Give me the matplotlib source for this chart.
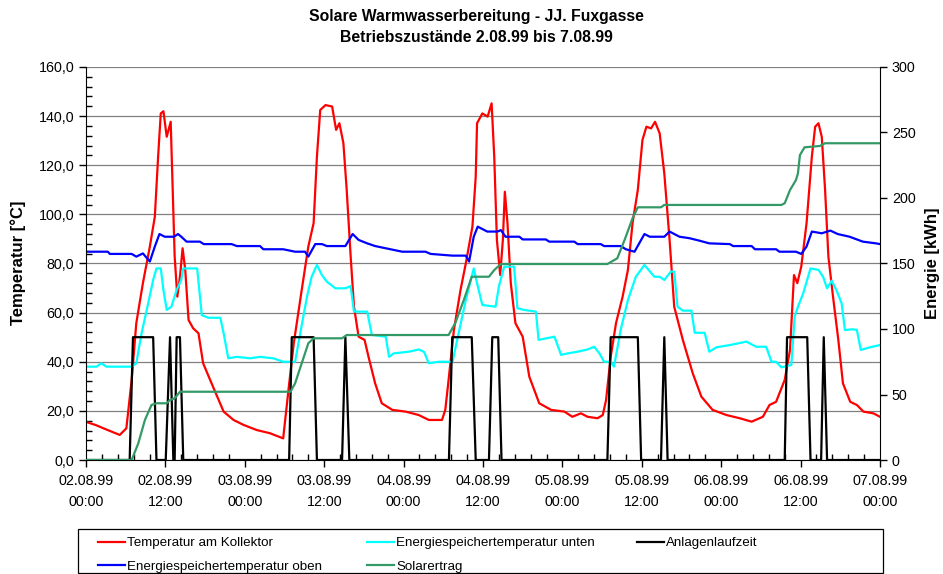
import matplotlib
matplotlib.use("Agg")
import matplotlib.pyplot as plt
import matplotlib.ticker as ticker
from matplotlib.patches import Rectangle

plt.rcParams['font.family'] = ['Liberation Sans', 'DejaVu Sans']

# hours since 02.08.99 00:00
kollektor_t = [0, 1.5, 3.0, 5.1, 6.1, 6.9, 7.6, 8.6, 9.65, 10.4, 10.9, 11.3, 11.7, 12.2, 12.8,
               13.1, 13.4, 13.8, 14.2, 14.6, 15.0, 15.5, 16.2, 17.0, 17.7, 19.2, 20.8, 22.3,
               23.8, 25.8, 27.8, 29.8, 30.6, 31.4, 32.6, 33.6, 34.4, 34.9, 35.4, 36.2, 37.2,
               37.8, 38.3, 38.9, 39.4, 40.0, 40.5, 41.2, 42.1, 42.7, 43.7, 44.7, 46.3, 48.3,
               50.3, 51.8, 53.8, 54.3, 54.8, 55.6, 56.6, 57.4, 58.4, 58.9, 59.1, 59.9, 60.7,
               61.3, 61.7, 62.1, 62.6, 63.0, 63.3, 63.7, 64.2, 64.9, 66.0, 67.0, 68.5, 70.3,
               72.3, 73.5, 74.8, 75.8, 77.3, 78.1, 78.6, 79.3, 80.1, 81.1, 81.9, 82.6, 83.4,
               84.1, 84.7, 85.4, 86.0, 86.7, 87.4, 88.2, 88.9, 90.2, 91.7, 93.0, 94.7, 96.8,
               98.8, 100.6, 102.3, 103.3, 104.3, 105.6, 106.4, 107.0, 107.5, 108.1, 108.9,
               109.7, 110.2, 110.7, 111.2, 111.7, 112.2, 112.9, 113.7, 114.4, 115.5, 116.5,
               117.5, 119.0, 120.0]
kollektor_v = [15.5, 14.2, 12.5, 10.2, 12.9, 32.6, 55.7, 72.0, 86.9, 99.0, 123.5, 141.1, 142.0,
               131.6, 137.7, 110.0, 82.8, 66.5, 74.6, 86.2, 77.4, 57.0, 53.6, 51.6, 39.4, 29.8,
               19.7, 16.3, 14.3, 12.2, 10.9, 8.8, 28.5, 47.5, 69.2, 86.9, 96.4, 123.5, 142.5,
               144.5, 143.9, 134.4, 137.1, 129.0, 110.0, 82.8, 62.4, 50.2, 48.9, 42.0, 31.2,
               23.1, 20.4, 19.7, 18.3, 16.3, 16.3, 20.4, 32.6, 52.9, 69.2, 80.0, 95.0, 115.4,
               137.1, 141.1, 139.8, 145.2, 123.5, 89.6, 75.3, 89.6, 109.2, 96.4, 72.0, 55.7,
               50.2, 33.9, 23.1, 20.4, 19.7, 17.6, 19.0, 17.6, 17.0, 18.3, 24.4, 42.0, 55.7,
               66.5, 77.4, 96.4, 110.0, 130.3, 135.7, 135.0, 137.7, 133.0, 116.7, 89.6, 62.4,
               48.9, 35.3, 25.8, 20.4, 18.3, 17.0, 15.6, 17.6, 22.4, 23.7, 32.6, 44.8, 75.3,
               72.0, 78.7, 96.4, 123.5, 135.7, 137.1, 131.6, 110.0, 82.8, 66.5, 48.9, 31.2,
               23.7, 22.4, 19.7, 19.0, 17.6]

unten_t = [0, 1.6, 2.3, 3.1, 6.9, 7.6, 8.4, 9.4, 10.15, 10.65, 11.3, 11.7, 12.2, 12.9, 13.7,
           14.4, 14.7, 16.8, 17.5, 18.5, 20.3, 20.8, 21.5, 22.8, 24.8, 26.3, 28.3, 29.8, 31.6,
           32.1, 33.4, 34.1, 34.9, 35.65, 36.4, 37.7, 39.2, 40.0, 40.5, 42.5, 43.2, 45.3, 45.8,
           46.5, 48.8, 50.3, 51.1, 51.8, 53.3, 55.4, 56.1, 57.4, 58.6, 59.1, 59.9, 61.9, 62.4,
           63.2, 64.7, 65.2, 66.2, 68.0, 68.4, 70.8, 71.8, 72.8, 74.3, 75.8, 76.8, 77.6, 78.3,
           79.3, 79.8, 80.8, 81.9, 83.1, 84.4, 85.9, 86.7, 87.4, 88.4, 88.9, 89.4, 90.2, 91.5,
           92.0, 93.5, 94.2, 95.3, 97.3, 99.8, 101.3, 102.8, 103.6, 104.3, 105.1, 106.6, 107.1,
           107.6, 108.4, 109.5, 110.7, 111.4, 112.0, 112.7, 113.4, 114.2, 114.7, 115.7, 116.5,
           117.1, 118.5, 120.0]
unten_v = [38.0, 38.0, 39.4, 38.0, 38.0, 39.4, 51.6, 63.8, 73.3, 78.0, 78.0, 69.2, 61.1, 62.4,
           69.2, 73.3, 78.0, 78.0, 59.0, 57.9, 57.9, 51.6, 41.4, 42.0, 41.4, 42.0, 41.4, 40.0,
           40.0, 47.5, 66.5, 74.6, 79.4, 75.3, 72.6, 69.9, 69.9, 70.8, 60.4, 60.4, 50.9, 50.2,
           42.0, 43.4, 44.1, 45.0, 44.0, 39.4, 40.0, 40.0, 48.9, 65.1, 78.0, 72.0, 63.1, 62.4,
           70.6, 78.7, 78.7, 61.8, 61.1, 60.4, 48.9, 50.2, 42.8, 43.4, 44.1, 45.0, 46.1, 43.4,
           40.0, 40.0, 38.0, 52.9, 65.1, 74.6, 79.4, 74.6, 74.6, 73.3, 76.7, 76.7, 62.4, 60.8,
           60.8, 51.8, 51.8, 44.1, 45.9, 46.8, 48.2, 46.1, 46.1, 40.0, 40.0, 37.7, 38.7, 58.4,
           62.4, 67.9, 78.0, 77.4, 74.6, 69.9, 73.0, 69.2, 63.8, 52.9, 53.2, 53.0, 44.8, 45.9,
           46.8]

lauf_t = [0, 6.6, 7.1, 10.15, 10.65, 12.05, 12.7, 13.2, 13.4, 13.7, 14.2, 14.7, 30.7, 31.1,
          34.4, 34.9, 38.7, 39.2, 39.8, 54.85, 55.35, 58.3, 58.9, 60.9, 61.4, 62.3, 62.8, 78.8,
          79.3, 83.4, 83.9, 86.9, 87.4, 87.9, 105.6, 105.95, 109.0, 109.5, 111.1, 111.5, 112.0,
          120.0]
lauf_v = [0, 0, 50, 50, 0, 0, 50, 0, 0, 50, 50, 0, 0, 50,
          50, 0, 0, 50, 0, 0, 50, 50, 0, 0, 50, 50, 0, 0,
          50, 50, 0, 0, 50, 0, 0, 50, 50, 0, 0, 50, 0,
          0]

oben_t = [0, 3.3, 3.6, 6.9, 7.6, 8.6, 9.65, 10.4, 11.1, 11.9, 13.3, 13.9, 14.4, 15.2, 17.2,
          17.8, 22.0, 22.8, 26.3, 26.8, 29.8, 31.6, 33.1, 33.6, 34.65, 35.65, 36.4, 39.2, 40.3,
          41.2, 42.5, 43.7, 45.3, 47.8, 51.3, 52.1, 55.4, 57.4, 57.9, 58.6, 59.2, 60.65, 62.2,
          62.7, 63.4, 65.5, 66.0, 69.5, 70.0, 73.8, 74.3, 77.8, 78.3, 80.8, 81.6, 82.9, 84.4,
          85.2, 87.4, 88.2, 89.7, 91.2, 92.7, 94.2, 97.3, 97.8, 100.6, 101.1, 104.3, 104.8,
          107.3, 108.1, 108.9, 109.7, 111.2, 112.5, 113.6, 115.4, 117.4, 119.4, 120.0]
oben_v = [84.8, 84.8, 83.9, 83.9, 82.8, 84.1, 80.8, 86.9, 92.0, 90.9, 90.9, 92.0, 90.9, 88.9,
          88.9, 87.9, 87.9, 87.1, 87.1, 85.8, 85.8, 84.8, 84.8, 82.8, 87.9, 87.9, 87.1, 87.1,
          92.0, 89.6, 88.2, 87.1, 86.2, 84.8, 84.8, 83.9, 83.2, 83.2, 80.8, 90.9, 95.0, 93.0,
          93.0, 93.6, 90.9, 90.9, 89.8, 89.8, 88.9, 88.9, 87.9, 87.9, 87.1, 87.1, 85.8, 84.8,
          92.0, 90.9, 90.9, 93.0, 90.9, 90.3, 89.3, 88.2, 87.9, 87.1, 87.1, 85.8, 85.8, 84.8,
          84.8, 83.9, 86.9, 93.0, 92.3, 93.4, 92.0, 90.9, 88.9, 88.2, 87.9]

ertrag_t = [0, 6.9, 7.9, 8.9, 9.9, 10.65, 12.2, 12.7, 13.4, 14.2, 30.9, 31.6, 32.6, 33.6, 34.4,
            38.7, 39.4, 54.8, 55.8, 57.1, 58.3, 60.9, 61.7, 62.7, 78.8, 80.3, 81.4, 82.6, 83.4,
            86.9, 87.4, 105.1, 105.6, 106.4, 107.3, 107.6, 107.9, 108.6, 110.9, 111.7, 120.0]
ertrag_v = [0, 0, 12.7, 30.5, 42.0, 43.3, 43.3, 45.8, 47.1, 52.1, 52.1, 58.5, 73.8, 89.1, 92.9,
            92.9, 95.4, 95.4, 104.4, 122.1, 139.9, 139.9, 145.0, 149.6, 149.6, 154.0, 168.0,
            184.5, 192.9, 192.9, 194.7, 194.7, 196.0, 206.1, 213.7, 218.9, 232.8, 238.7, 239.7,
            241.8, 241.8]

tick_hours = list(range(0, 121, 12))
tick_labels = ['02.08.99\n00:00', '02.08.99\n12:00', '03.08.99\n00:00', '03.08.99\n12:00',
               '04.08.99\n00:00', '04.08.99\n12:00', '05.08.99\n00:00', '05.08.99\n12:00',
               '06.08.99\n00:00', '06.08.99\n12:00', '07.08.99\n00:00']

W, H = 943, 574
fig = plt.figure(figsize=(W / 100, H / 100), dpi=100)
ax = fig.add_axes([86 / W, 1 - 460 / H, (880 - 86) / W, (460 - 67) / H])
ax2 = ax.twinx()

lw = 1.6
h1, = ax.plot(kollektor_t, kollektor_v, color='#ff0000', lw=lw, label='Temperatur am Kollektor')
h2, = ax.plot(unten_t, unten_v, color='#00ffff', lw=lw, label='Energiespeichertemperatur unten')
h3, = ax.plot(lauf_t, lauf_v, color='black', lw=lw, label='Anlagenlaufzeit')
h4, = ax.plot(oben_t, oben_v, color='#0000ff', lw=lw, label='Energiespeichertemperatur oben')
h5, = ax2.plot(ertrag_t, ertrag_v, color='#339966', lw=lw, label='Solarertrag')

ax.set_xlim(0, 120)
ax.set_ylim(0, 160)
ax2.set_ylim(0, 300)

ax.set_xticks(tick_hours)
ax.set_xticklabels(tick_labels, linespacing=1.65)
ax.xaxis.set_minor_locator(ticker.MultipleLocator(2.4))
ax.yaxis.set_major_locator(ticker.MultipleLocator(20))
ax.yaxis.set_minor_locator(ticker.MultipleLocator(4))
ax.yaxis.set_major_formatter(ticker.FuncFormatter(lambda v, p: f"{v:.1f}".replace('.', ',')))
ax2.yaxis.set_major_locator(ticker.MultipleLocator(50))

ax.tick_params(axis='both', which='major', direction='out', length=5, width=1, labelsize=10.3)
ax.tick_params(axis='x', which='major', pad=5)
ax.tick_params(axis='both', which='minor', direction='in', length=4, width=1)
ax2.tick_params(axis='y', which='major', direction='out', length=5, width=1, labelsize=10.3)

ax.grid(True, axis='y', which='major', color='#808080', lw=0.9)
ax.set_axisbelow(True)
for a in (ax, ax2):
    a.spines['top'].set_visible(False)
ax.spines['right'].set_visible(False)
ax2.spines['left'].set_visible(False)
ax2.spines['bottom'].set_visible(False)

fig.text(476 / W, 1 - 17 / H, 'Solare Warmwasserbereitung - JJ. Fuxgasse',
         ha='center', va='center', fontsize=11.3, fontweight='bold')
fig.text(476 / W, 1 - 38 / H, 'Betriebszustände 2.08.99 bis 7.08.99',
         ha='center', va='center', fontsize=11.3, fontweight='bold')
fig.text(18 / W, 1 - 263 / H, 'Temperatur [°C]', rotation=90, ha='center', va='center',
         fontsize=12, fontweight='bold')
fig.text(933 / W, 1 - 263 / H, 'Energie [kWh]', rotation=90, ha='center', va='center',
         fontsize=12, fontweight='bold')

# legend: three columns placed by hand inside one frame
cols = [([h1, h4], 98), ([h2, h5], 367), ([h3], 637)]
for handles, x0 in cols:
    leg = fig.legend(handles=handles, loc='upper left', bbox_to_anchor=(x0 / W, 1 - 537 / H),
                     frameon=False, fontsize=9.6, borderpad=0, borderaxespad=0,
                     handlelength=2.05, handletextpad=0.15, labelspacing=0.86)
fig.patches.append(Rectangle((78 / W, 1 / H), (883 - 78) / W, (573 - 529) / H,
                             transform=fig.transFigure, fill=False, ec='black', lw=0.9))

fig.savefig('out.png', dpi=100)
